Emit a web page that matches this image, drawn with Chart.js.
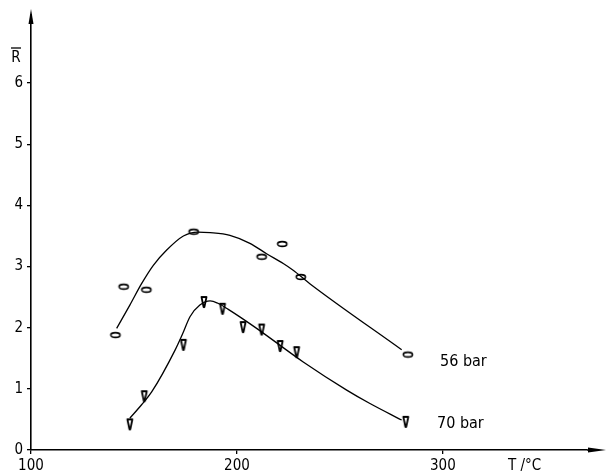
<!DOCTYPE html>
<html>
<head>
<meta charset="utf-8">
<script src="https://cdn.jsdelivr.net/npm/chart.js@4/dist/chart.umd.min.js"></script>
<style>
  html, body { margin: 0; padding: 0; background: #fff; }
  #wrap { width: 607px; height: 475px; }
</style>
</head>
<body>
<div id="wrap"><canvas id="chart"></canvas></div>
<script>
// measured points
const temps56 = [141, 145, 156, 179, 212, 222, 231, 283];
const r56 = [1.88, 2.67, 2.62, 3.57, 3.16, 3.37, 2.83, 1.56];
const temps70 = [148, 155, 174, 184, 193, 203, 212, 221, 229, 282];
const r70 = [0.42, 0.88, 1.72, 2.42, 2.31, 2.01, 1.97, 1.70, 1.60, 0.46];

// hand drawn curves
const curveT56 = [141.6, 148, 153.7, 159.4, 165.9, 174, 181, 187, 196.6, 206.3, 214.4, 222.5, 227.3, 235.4, 280];
const curveR56 = [1.99, 2.37, 2.72, 3.02, 3.27, 3.50, 3.565, 3.555, 3.51, 3.38, 3.21, 3.05, 2.94, 2.72, 1.64];
const curveT70 = [148, 153.7, 158.6, 169.9, 174, 177.2, 182, 187, 190.8, 195.8, 208.7, 232.2, 253.3, 264.6, 280];
const curveR70 = [0.52, 0.74, 0.95, 1.63, 1.93, 2.18, 2.37, 2.44, 2.40, 2.30, 2.01, 1.44, 0.98, 0.76, 0.49];

const xTickLabels = [100, 200, 300];
const yTickLabels = [0, 1, 2, 3, 4, 5, 6];
const seriesLabels = ["56 bar", "70 bar"];

const FONT = "'DejaVu Sans Condensed', 'DejaVu Sans', sans-serif";

function toXY(xs, ys) {
    return xs.map((x, i) => ({ x: x, y: ys[i] }));
}

// marker images
function makeEllipse() {
    const c = document.createElement("canvas");
    c.width = 14; c.height = 10;
    const g = c.getContext("2d");
    g.fillStyle = "#fff";
    g.strokeStyle = "#000";
    g.lineWidth = 1.6;
    g.beginPath();
    g.ellipse(7, 5, 4.6, 2.4, 0, 0, Math.PI * 2);
    g.fill();
    g.stroke();
    return c;
}

function makeWedge() {
    const c = document.createElement("canvas");
    c.width = 10; c.height = 14;
    const g = c.getContext("2d");
    g.fillStyle = "#fff";
    g.strokeStyle = "#000";
    g.lineWidth = 1.8;
    g.lineJoin = "round";
    g.beginPath();
    g.moveTo(2.5, 2);
    g.lineTo(7.5, 2);
    g.lineTo(5.4, 12);
    g.lineTo(4.6, 12);
    g.closePath();
    g.fill();
    g.stroke();
    return c;
}

const axisExtras = {
    id: "axisExtras",
    afterDraw(chart) {
        const ctx = chart.ctx;
        const area = chart.chartArea;
        const ys = chart.scales.y;
        ctx.save();
        ctx.strokeStyle = "#000";
        ctx.fillStyle = "#000";
        ctx.lineWidth = 1.5;

        // y axis arrow
        ctx.beginPath();
        ctx.moveTo(area.left, area.top);
        ctx.lineTo(area.left, 14);
        ctx.stroke();
        ctx.beginPath();
        ctx.moveTo(area.left, 9);
        ctx.lineTo(area.left - 2.5, 24);
        ctx.lineTo(area.left + 2.5, 24);
        ctx.closePath();
        ctx.fill();

        // x axis arrow
        ctx.beginPath();
        ctx.moveTo(area.right, area.bottom);
        ctx.lineTo(595, area.bottom);
        ctx.stroke();
        ctx.beginPath();
        ctx.moveTo(606, area.bottom);
        ctx.lineTo(588, area.bottom - 2.5);
        ctx.lineTo(588, area.bottom + 2.5);
        ctx.closePath();
        ctx.fill();

        ctx.font = "16px " + FONT;
        ctx.textBaseline = "middle";
        ctx.textAlign = "left";
        ctx.fillText(seriesLabels[0], 440, ys.getPixelForValue(1.44));
        ctx.fillText(seriesLabels[1], 437, ys.getPixelForValue(0.43));

        ctx.font = "15px " + FONT;
        ctx.fillText("T /°C", 508, 466);

        // R with overbar
        ctx.textAlign = "center";
        ctx.fillText("R", 16, 58);
        ctx.lineWidth = 1.3;
        ctx.beginPath();
        ctx.moveTo(11, 48);
        ctx.lineTo(21, 48);
        ctx.stroke();
        ctx.restore();
    }
};

const ellipse = makeEllipse();
const wedge = makeWedge();

new Chart(document.getElementById("chart"), {
    type: "scatter",
    data: {
        datasets: [
            {
                label: "fit 56",
                data: toXY(curveT56, curveR56),
                showLine: true,
                borderColor: "#000",
                borderWidth: 1.3,
                pointRadius: 0,
                cubicInterpolationMode: "monotone"
            },
            {
                label: "fit 70",
                data: toXY(curveT70, curveR70),
                showLine: true,
                borderColor: "#000",
                borderWidth: 1.3,
                pointRadius: 0,
                cubicInterpolationMode: "monotone"
            },
            {
                label: seriesLabels[0],
                data: toXY(temps56, r56),
                pointStyle: ellipse,
                pointRadius: 5
            },
            {
                label: seriesLabels[1],
                data: toXY(temps70, r70),
                pointStyle: wedge,
                pointRadius: 6
            }
        ]
    },
    options: {
        responsive: true,
        maintainAspectRatio: false,
        animation: false,
        layout: { padding: { top: 22, right: 20, left: 0, bottom: 0 } },
        plugins: {
            legend: { display: false },
            tooltip: { enabled: false }
        },
        scales: {
            x: {
                type: "linear",
                min: 100,
                max: 370,
                afterFit(scale) { scale.height = 25; },
                afterBuildTicks(scale) {
                    scale.ticks = scale.ticks.filter(t => xTickLabels.includes(t.value));
                },
                border: { display: true, color: "#000", width: 1.6 },
                grid: { drawOnChartArea: false, drawTicks: true, tickLength: 4, color: "#000", lineWidth: 1.3 },
                ticks: {
                    stepSize: 100,
                    includeBounds: false,
                    padding: 3,
                    color: "#000",
                    font: { family: FONT, size: 15 }
                }
            },
            y: {
                type: "linear",
                min: 0,
                max: 7,
                afterFit(scale) { scale.width = 31; },
                afterBuildTicks(scale) {
                    scale.ticks = scale.ticks.filter(t => yTickLabels.includes(t.value));
                },
                border: { display: true, color: "#000", width: 1.6 },
                grid: { drawOnChartArea: false, drawTicks: true, tickLength: 4, color: "#000", lineWidth: 1.3 },
                ticks: {
                    stepSize: 1,
                    padding: 4,
                    color: "#000",
                    font: { family: FONT, size: 15 }
                }
            }
        }
    },
    plugins: [axisExtras]
});
</script>
</body>
</html>
